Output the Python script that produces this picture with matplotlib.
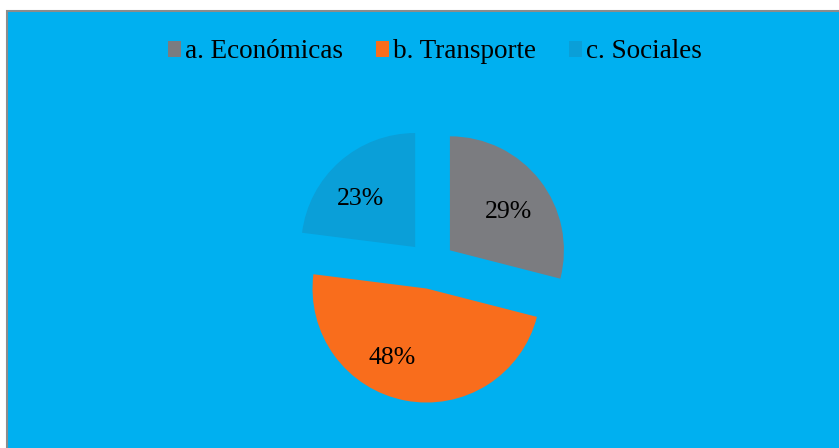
import matplotlib.pyplot as plt
from matplotlib.patches import Rectangle

# data
categorias = ["a. Económicas", "b. Transporte", "c. Sociales"]
valores = [29, 48, 23]
colores = ["#7B7C80", "#F96D1C", "#0A9FD8"]

plt.rcParams['font.family'] = ['Liberation Serif', 'DejaVu Serif']

fig = plt.figure(figsize=(8.39, 4.48), dpi=100, facecolor='white')

# chart area background with grey frame (cropped on right/bottom)
fondo = Rectangle((7 / 839, -0.1), 1.2, (1 - 11 / 448) + 0.1,
                  transform=fig.transFigure, facecolor='#00B0F0',
                  edgecolor='#8C8C8C', linewidth=1.5, zorder=-5)
fig.patches.append(fondo)

# axes sized so that pie radius ~114 px, centre at (431, 265) px
ax = fig.add_axes([260 / 839, 12 / 448, 342 / 839, 342 / 448])
wedges, textos, pcts = ax.pie(valores, colors=colores, startangle=90,
                              counterclock=False,
                              explode=[0.21, 0.21, 0.21],
                              autopct='%1.0f%%', pctdistance=0.65,
                              wedgeprops=dict(linewidth=0),
                              textprops=dict(fontsize=18.5, color='black'))
ax.set_xlim(-1.5, 1.5)
ax.set_ylim(-1.5, 1.5)
ax.patch.set_visible(False)

# nudge labels to where Excel put them
ajustes = [(0.0, -0.06), (-0.18, 0.03), (-0.05, -0.07)]
for t, (dx, dy) in zip(pcts, ajustes):
    x, y = t.get_position()
    t.set_position((x + dx, y + dy))

fig.legend(wedges, categorias, loc='center', bbox_to_anchor=(435 / 839, 1 - 52 / 448),
           ncol=3, frameon=False, fontsize=19.5, handlelength=0.5, handleheight=0.5,
           handletextpad=0.15, columnspacing=1.2)

plt.savefig('out.png', dpi=100, facecolor='white')
